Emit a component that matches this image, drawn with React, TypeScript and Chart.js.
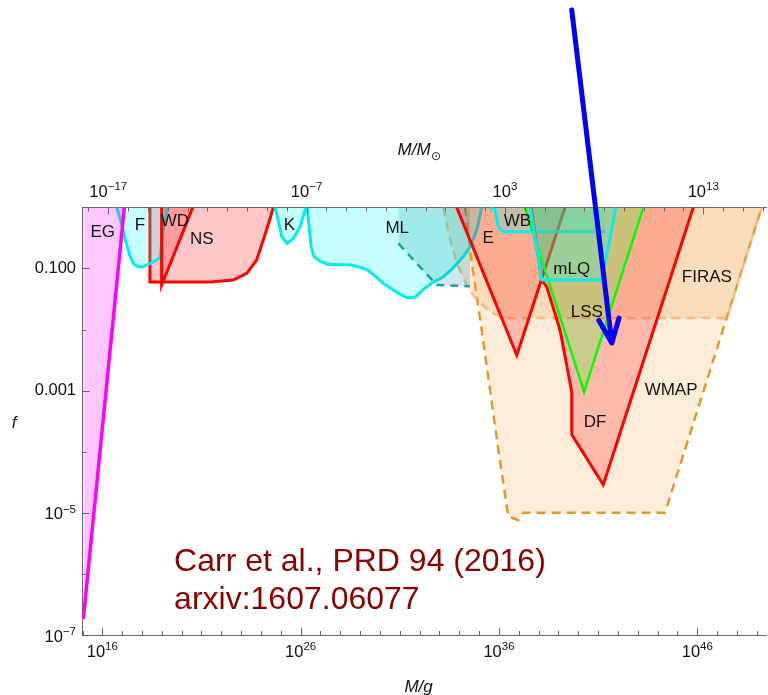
import React, { useEffect, useRef } from "react";
import { Chart, registerables } from "chart.js";
Chart.register(...registerables);

// Each point: [log10(M / g), log10(f)]
type P = [number, number];

const X_MIN_EXP = 15;
const X_MAX_EXP = 49.5;
const Y_MIN_EXP = -7;
const Y_MAX_EXP = 0;
const LOG_MSUN = 33.3; // log10 of solar mass in grams

const BOTTOM_LABELED = [16, 26, 36, 46];
const TOP_LABELED = [-17, -7, 3, 13];
// y labels: either a plain string or a power of ten
const Y_LABELS: Record<string, string | null> = { "-1": "0.100", "-3": "0.001", "-5": null, "-7": null };

const EG: P[] = [[15.04, -6.74], [17.11, 0]];
const F: P[] = [[16.72, 0], [16.84, -0.12], [16.99, -0.3], [17.19, -0.57], [17.39, -0.8], [17.59, -0.93], [17.8, -0.97], [18.05, -0.97], [18.4, -0.92], [18.76, -0.86], [18.91, -0.81], [18.99, -0.58], [19.11, -0.29], [19.28, 0]];
const NS: P[] = [[18.4, 0], [18.4, -1.22], [21.43, -1.22], [22.6, -1.19], [23.28, -1.08], [23.78, -0.86], [24.12, -0.53], [24.46, -0.18], [24.62, 0]];
const WD: P[] = [[18.99, 0], [18.99, -1.27], [20.56, 0]];
const K: P[] = [[24.71, 0], [24.79, -0.1], [25.05, -0.48], [25.31, -0.59], [25.63, -0.51], [25.97, -0.32], [26.22, -0.04], [26.31, 0]];
const ML: P[] = [[26.32, 0], [26.42, -0.29], [26.52, -0.62], [26.67, -0.81], [26.98, -0.88], [27.33, -0.93], [27.98, -0.94], [28.49, -0.94], [28.99, -0.98], [29.35, -1.02], [29.75, -1.12], [30.15, -1.24], [30.66, -1.35], [31.01, -1.42], [31.36, -1.48], [31.77, -1.47], [32.17, -1.35], [32.68, -1.22], [33.18, -1.14], [33.69, -0.99], [34.19, -0.81], [34.54, -0.65], [34.88, -0.37], [35.13, 0]];
const ML_ALT: P[] = [[30.93, -0.59], [32.86, -1.27], [34.54, -1.29]];
const E: P[] = [[33.87, 0], [36.9, -2.42], [39.33, 0]];
const WB: P[] = [[35.55, 0], [35.8, -0.04], [35.97, -0.32], [36.22, -0.4], [41.35, -0.4]];
const MLQ: P[] = [[37.57, 0], [38.16, -1.19], [41.18, -1.19], [41.9, 0]];
const LSS: P[] = [[37.31, 0], [40.29, -3.02], [43.28, 0]];
const DF: P[] = [[37.62, 0], [38.16, -1.19], [38.41, -1.3], [39.08, -2.01], [39.43, -2.61], [39.67, -3.02], [39.67, -3.72], [41.26, -4.54], [45.8, 0]];
const WMAP: P[] = [[34.29, 0], [34.63, -0.91], [35.13, -2.01], [35.97, -3.97], [36.47, -5.06], [36.98, -5.12], [37.23, -5.0], [44.37, -5.0], [49.25, 0]];
const FIRAS: P[] = [[33.19, 0], [33.48, -0.45], [33.87, -0.91], [34.37, -1.27], [34.79, -1.48], [35.55, -1.71], [36.22, -1.81], [47.49, -1.81], [49.25, 0]];

const REGION_LABELS: { text: string; at: P }[] = [
  { text: "EG", at: [16.02, -0.4] },
  { text: "F", at: [17.9, -0.3] },
  { text: "WD", at: [19.66, -0.22] },
  { text: "NS", at: [21.01, -0.52] },
  { text: "K", at: [25.43, -0.29] },
  { text: "ML", at: [30.87, -0.35] },
  { text: "E", at: [35.46, -0.51] },
  { text: "WB", at: [36.93, -0.22] },
  { text: "mLQ", at: [39.67, -1.01] },
  { text: "LSS", at: [40.43, -1.71] },
  { text: "FIRAS", at: [46.48, -1.14] },
  { text: "WMAP", at: [44.68, -3.0] },
  { text: "DF", at: [40.84, -3.52] },
];

const CITATION_LINES = ["Carr et al., PRD 94 (2016)", "arxiv:1607.06077"];
const CITATION_AT: P[] = [[19.62, -5.8], [19.62, -6.43]];

const ARROW_FROM: P = [39.67, 3.23];
const ARROW_TO: P = [41.69, -2.22];

const FONT = '"Liberation Sans", Arial, "DejaVu Sans", sans-serif';
const expText = (e: number) => String(e).replace("-", "\u2212");

const toXY = (pts: P[]) => pts.map(([m, f]) => ({ x: Math.pow(10, m), y: Math.pow(10, f) }));

const RED = "#FF0000";
const CYAN = "#00EEEE";
const CYAN_FILL = "rgba(0,255,255,0.22)";
const RED_FILL = "rgba(255,0,0,0.22)";

// bottom -> top drawing order
const REGIONS = [
  { name: "WMAP", pts: WMAP, fill: "rgba(240,160,60,0.2)", line: "#E09A28", width: 2.5, dash: [9, 6] },
  { name: "FIRAS", pts: FIRAS, fill: "rgba(240,170,90,0.25)", line: "rgba(255,178,125,0.9)", width: 2.5, dash: [9, 6] },
  { name: "NS", pts: NS, fill: RED_FILL, line: RED, width: 3, dash: [] },
  { name: "F", pts: F, fill: CYAN_FILL, line: CYAN, width: 3, dash: [] },
  { name: "EG", pts: EG, fill: "rgba(255,0,255,0.22)", line: "#FF00FF", width: 3.5, dash: [] },
  { name: "WD", pts: WD, fill: RED_FILL, line: RED, width: 3, dash: [] },
  { name: "K", pts: K, fill: CYAN_FILL, line: CYAN, width: 3, dash: [] },
  { name: "ML", pts: ML, fill: CYAN_FILL, line: CYAN, width: 3, dash: [] },
  { name: "ML_ALT", pts: ML_ALT, fill: "rgba(0,150,160,0.2)", line: "#1AA3A3", width: 2.5, dash: [8, 6] },
  { name: "E", pts: E, fill: RED_FILL, line: RED, width: 3, dash: [] },
  { name: "WB", pts: WB, fill: CYAN_FILL, line: CYAN, width: 3, dash: [] },
  { name: "DF", pts: DF, fill: RED_FILL, line: RED, width: 3, dash: [] },
  { name: "LSS", pts: LSS, fill: "rgba(60,255,60,0.25)", line: "#00FF00", width: 2.5, dash: [] },
  { name: "mLQ", pts: MLQ, fill: CYAN_FILL, line: CYAN, width: 3, dash: [] },
];

const AXIS_COLOR = "#666";
const BASE_SIZE = 16.5;
const SUP_SIZE = 11.5;

// draw "10^e"; align: 'center' -> x is centre, 'right' -> x is right end
function drawPow(ctx: CanvasRenderingContext2D, e: number, x: number, y: number, align: "center" | "right") {
  ctx.font = `${BASE_SIZE}px ${FONT}`;
  const wb = ctx.measureText("10").width;
  ctx.font = `${SUP_SIZE}px ${FONT}`;
  const ex = expText(e);
  const we = ctx.measureText(ex).width;
  const total = wb + we;
  const x0 = align === "center" ? x - total / 2 : x - total;
  ctx.textAlign = "left";
  ctx.textBaseline = "middle";
  ctx.font = `${BASE_SIZE}px ${FONT}`;
  ctx.fillText("10", x0, y);
  ctx.font = `${SUP_SIZE}px ${FONT}`;
  ctx.fillText(ex, x0 + wb, y - 5.5);
}

const decor = {
  id: "decor",
  afterDraw(chart: any) {
    const { ctx, chartArea: a, scales } = chart;
    const sx = scales.x;
    const sx2 = scales.x2;
    const sy = scales.y;
    ctx.save();
    // inward ticks
    ctx.strokeStyle = AXIS_COLOR;
    ctx.lineWidth = 1;
    ctx.beginPath();
    for (const t of sx.ticks) {
      const e = Math.round(Math.log10(t.value));
      const len = BOTTOM_LABELED.includes(e) ? 7 : 4;
      const x = Math.round(sx.getPixelForValue(t.value)) + 0.5;
      ctx.moveTo(x, a.bottom);
      ctx.lineTo(x, a.bottom - len);
    }
    for (const t of sx2.ticks) {
      const e = Math.round(Math.log10(t.value) - LOG_MSUN);
      const len = TOP_LABELED.includes(e) ? 7 : 4;
      const x = Math.round(sx2.getPixelForValue(t.value)) + 0.5;
      ctx.moveTo(x, a.top);
      ctx.lineTo(x, a.top + len);
    }
    for (const t of sy.ticks) {
      const e = Math.round(Math.log10(t.value));
      const len = String(e) in Y_LABELS ? 7 : 4;
      const y = Math.round(sy.getPixelForValue(t.value)) + 0.5;
      ctx.moveTo(a.left, y);
      ctx.lineTo(a.left + len, y);
    }
    ctx.stroke();

    // tick labels
    ctx.fillStyle = "#111";
    for (const t of sx.ticks) {
      const e = Math.round(Math.log10(t.value));
      if (BOTTOM_LABELED.includes(e)) drawPow(ctx, e, sx.getPixelForValue(t.value), a.bottom + 17, "center");
    }
    for (const t of sx2.ticks) {
      const e = Math.round(Math.log10(t.value) - LOG_MSUN);
      if (TOP_LABELED.includes(e)) drawPow(ctx, e, sx2.getPixelForValue(t.value), a.top - 15, "center");
    }
    for (const t of sy.ticks) {
      const e = Math.round(Math.log10(t.value));
      const key = String(e);
      if (!(key in Y_LABELS)) continue;
      const y = sy.getPixelForValue(t.value);
      const s = Y_LABELS[key];
      if (s) {
        ctx.font = `${BASE_SIZE}px ${FONT}`;
        ctx.textAlign = "right";
        ctx.textBaseline = "middle";
        ctx.fillText(s, a.left - 6.5, y);
      } else {
        drawPow(ctx, e, a.left - 6.5, y + 2, "right");
      }
    }

    // region labels
    ctx.fillStyle = "#111";
    ctx.font = `17px ${FONT}`;
    ctx.textAlign = "center";
    ctx.textBaseline = "middle";
    for (const l of REGION_LABELS) {
      ctx.fillText(l.text, sx.getPixelForValue(Math.pow(10, l.at[0])), sy.getPixelForValue(Math.pow(10, l.at[1])));
    }

    // citation
    ctx.fillStyle = "#8B0000";
    ctx.font = `32px ${FONT}`;
    ctx.textAlign = "left";
    CITATION_LINES.forEach((s, i) => {
      const p = CITATION_AT[i];
      ctx.fillText(s, sx.getPixelForValue(Math.pow(10, p[0])), sy.getPixelForValue(Math.pow(10, p[1])));
    });

    // axis titles
    ctx.fillStyle = "#111";
    ctx.font = `italic 17px ${FONT}`;
    ctx.textAlign = "center";
    const cx = (a.left + a.right) / 2 - 6;
    ctx.fillText("M/g", cx, 687);
    ctx.fillText("f", 14, 423);
    ctx.textAlign = "left";
    const w = ctx.measureText("M/M").width;
    const tx = cx - (w + 9) / 2;
    ctx.fillText("M/M", tx, 150);
    ctx.font = `12px ${FONT}`;
    ctx.fillText("⊙", tx + w + 0.5, 157);

    // arrow
    const x0 = sx.getPixelForValue(Math.pow(10, ARROW_FROM[0]));
    const y0 = sy.getPixelForValue(Math.pow(10, ARROW_FROM[1]));
    const x1 = sx.getPixelForValue(Math.pow(10, ARROW_TO[0]));
    const y1 = sy.getPixelForValue(Math.pow(10, ARROW_TO[1]));
    const ang = Math.atan2(y0 - y1, x0 - x1);
    const hl = 26;
    const ha = (23 * Math.PI) / 180;
    ctx.strokeStyle = "#0000FF";
    ctx.lineWidth = 5;
    ctx.lineCap = "round";
    ctx.lineJoin = "round";
    ctx.beginPath();
    ctx.moveTo(x0, y0);
    ctx.lineTo(x1, y1);
    ctx.moveTo(x1 + hl * Math.cos(ang + ha), y1 + hl * Math.sin(ang + ha));
    ctx.lineTo(x1, y1);
    ctx.lineTo(x1 + hl * Math.cos(ang - ha), y1 + hl * Math.sin(ang - ha));
    ctx.stroke();
    ctx.restore();
  },
};

export default function App() {
  const ref = useRef<HTMLCanvasElement>(null);
  useEffect(() => {
    const canvas = ref.current!;
    const datasets = REGIONS.map((r, i) => ({
      label: r.name,
      data: toXY(r.pts),
      borderColor: r.line,
      backgroundColor: r.fill,
      borderWidth: r.width,
      borderDash: r.dash,
      fill: "end",
      pointRadius: 0,
      tension: 0,
      order: -i,
    }));
    const xMin = Math.pow(10, X_MIN_EXP);
    const xMax = Math.pow(10, X_MAX_EXP);
    const yMin = Math.pow(10, Y_MIN_EXP);
    const yMax = Math.pow(10, Y_MAX_EXP);
    const chart = new Chart(canvas, {
      type: "line",
      data: { datasets: datasets as any },
      options: {
        animation: false,
        responsive: false,
        devicePixelRatio: 1,
        layout: { padding: { left: 0, right: 1.3, top: 0, bottom: 0 } },
        plugins: { legend: { display: false }, tooltip: { enabled: false } },
        scales: {
          x: {
            type: "logarithmic",
            position: "bottom",
            min: xMin,
            max: xMax,
            z: 1,
            afterBuildTicks: (s: any) => {
              const t = [];
              for (let e = Math.ceil(X_MIN_EXP); e <= Math.floor(X_MAX_EXP); e++) t.push({ value: Math.pow(10, e) });
              s.ticks = t;
              s.min = xMin;
              s.max = xMax;
            },
            afterFit: (s: any) => {
              s.height = 60;
            },
            grid: { display: false, drawTicks: false },
            border: { display: true, color: AXIS_COLOR, width: 1 },
            ticks: { display: false },
          },
          x2: {
            type: "logarithmic",
            position: "top",
            min: xMin,
            max: xMax,
            z: 1,
            afterBuildTicks: (s: any) => {
              const t = [];
              for (let e = -18; e <= 16; e++) {
                const lm = e + LOG_MSUN;
                if (lm >= X_MIN_EXP && lm <= X_MAX_EXP) t.push({ value: Math.pow(10, lm) });
              }
              s.ticks = t;
              s.min = xMin;
              s.max = xMax;
            },
            afterFit: (s: any) => {
              s.height = 207.4;
            },
            grid: { display: false, drawTicks: false },
            border: { display: true, color: AXIS_COLOR, width: 1 },
            ticks: { display: false },
          },
          y: {
            type: "logarithmic",
            position: "left",
            min: yMin,
            max: yMax,
            z: 1,
            afterBuildTicks: (s: any) => {
              const t = [];
              for (let e = Y_MAX_EXP; e >= Y_MIN_EXP; e--) t.push({ value: Math.pow(10, e) });
              s.ticks = t;
              s.min = yMin;
              s.max = yMax;
            },
            afterFit: (s: any) => {
              s.width = 82.5;
            },
            grid: { display: false, drawTicks: false },
            border: { display: true, color: AXIS_COLOR, width: 1 },
            ticks: { display: false },
          },
        },
      } as any,
      plugins: [decor],
    });
    return () => chart.destroy();
  }, []);
  return (
    <div style={{ position: "absolute", left: 0, top: 0, width: 768, height: 695, background: "#fff" }}>
      <canvas ref={ref} width={768} height={695} style={{ width: 768, height: 695, display: "block" }} />
    </div>
  );
}
